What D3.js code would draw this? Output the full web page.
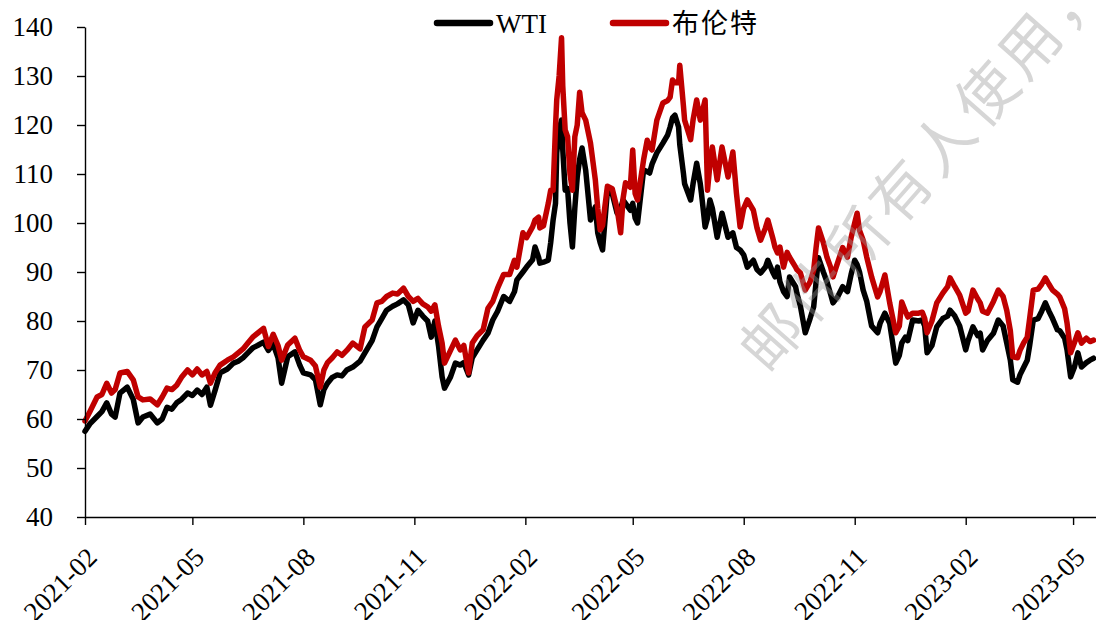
<!DOCTYPE html>
<html>
<head>
<meta charset="utf-8">
<script src="https://d3js.org/d3.v7.min.js"></script>
<style>
body { margin: 0; background: #fff; }
</style>
</head>
<body>
<div id="main"></div>
<script>
// daily prices (USD/bbl)
var dates = ["2021-02-08","2021-02-12","2021-02-18","2021-02-22","2021-02-26","2021-03-02","2021-03-05","2021-03-09","2021-03-15","2021-03-20",
"2021-03-24","2021-03-28","2021-04-03","2021-04-09","2021-04-13","2021-04-17","2021-04-21","2021-04-25","2021-04-29","2021-05-04",
"2021-05-08","2021-05-12","2021-05-16","2021-05-20","2021-05-23","2021-05-27","2021-05-31","2021-06-06","2021-06-11","2021-06-15",
"2021-06-19","2021-06-23","2021-06-27","2021-07-01","2021-07-06","2021-07-10","2021-07-14","2021-07-18","2021-07-21","2021-07-26",
"2021-08-01","2021-08-05","2021-08-08","2021-08-14","2021-08-18","2021-08-22","2021-08-25","2021-08-28","2021-09-01","2021-09-05",
"2021-09-09","2021-09-13","2021-09-18","2021-09-24","2021-09-28","2021-10-04","2021-10-08","2021-10-12","2021-10-16","2021-10-21",
"2021-10-25","2021-10-30","2021-11-03","2021-11-07","2021-11-11","2021-11-15","2021-11-19","2021-11-22","2021-11-25","2021-11-28",
"2021-12-01","2021-12-03","2021-12-08","2021-12-12","2021-12-16","2021-12-19","2021-12-23","2021-12-26","2021-12-30","2022-01-04",
"2022-01-08","2022-01-12","2022-01-16","2022-01-21","2022-01-26","2022-01-30","2022-02-01","2022-02-06","2022-02-09","2022-02-14",
"2022-02-16","2022-02-19","2022-02-20","2022-02-23","2022-02-27","2022-03-01","2022-03-03","2022-03-05","2022-03-06","2022-03-08",
"2022-03-10","2022-03-11","2022-03-13","2022-03-15","2022-03-17","2022-03-19","2022-03-21","2022-03-23","2022-03-25","2022-03-27",
"2022-03-30","2022-04-03","2022-04-07","2022-04-09","2022-04-11","2022-04-13","2022-04-17","2022-04-21","2022-04-25","2022-04-28",
"2022-04-30","2022-05-02","2022-05-06","2022-05-08","2022-05-10","2022-05-12","2022-05-17","2022-05-20","2022-05-22","2022-05-24",
"2022-05-28","2022-06-02","2022-06-06","2022-06-08","2022-06-10","2022-06-12","2022-06-15","2022-06-16","2022-06-19","2022-06-20",
"2022-06-25","2022-06-27","2022-06-30","2022-07-03","2022-07-04","2022-07-07","2022-07-09","2022-07-11","2022-07-13","2022-07-17",
"2022-07-21","2022-07-26","2022-07-30","2022-08-02","2022-08-05","2022-08-08","2022-08-11","2022-08-16","2022-08-19","2022-08-22",
"2022-08-26","2022-08-28","2022-09-01","2022-09-03","2022-09-05","2022-09-07","2022-09-10","2022-09-13","2022-09-15","2022-09-20",
"2022-09-21","2022-09-24","2022-09-28","2022-10-02","2022-10-05","2022-10-07","2022-10-09","2022-10-13","2022-10-16","2022-10-19",
"2022-10-21","2022-10-25","2022-10-29","2022-11-02","2022-11-05","2022-11-08","2022-11-10","2022-11-12","2022-11-15","2022-11-18",
"2022-11-21","2022-11-22","2022-11-27","2022-11-29","2022-12-03","2022-12-07","2022-12-12","2022-12-15","2022-12-17","2022-12-20",
"2022-12-22","2022-12-26","2022-12-31","2023-01-03","2023-01-05","2023-01-07","2023-01-11","2023-01-15","2023-01-20","2023-01-24",
"2023-01-26","2023-01-30","2023-02-03","2023-02-08","2023-02-10","2023-02-14","2023-02-18","2023-02-20","2023-02-22","2023-02-26",
"2023-03-03","2023-03-07","2023-03-11","2023-03-14","2023-03-17","2023-03-19","2023-03-23","2023-03-25","2023-03-28","2023-03-31",
"2023-04-02","2023-04-05","2023-04-09","2023-04-12","2023-04-15","2023-04-18","2023-04-21","2023-04-25","2023-04-27","2023-05-01",
"2023-05-03","2023-05-06","2023-05-09","2023-05-12","2023-05-15","2023-05-19","2023-05-22","2023-05-25"];

var wti = [57.5,59.0,60.5,61.5,63.3,61.0,60.4,65.3,66.5,64.0,
59.2,60.4,61.0,59.2,60.0,62.4,62.0,63.3,64.0,65.3,
64.8,65.9,65.0,66.5,62.8,66.0,69.4,70.2,71.4,71.8,
72.5,73.5,74.5,75.0,75.7,74.0,75.3,72.5,67.3,72.7,
73.7,71.0,69.4,69.0,68.0,62.9,66.0,67.3,68.5,69.0,
68.8,70.0,70.6,71.8,73.5,76.0,78.8,80.5,82.2,83.0,
83.5,84.3,83.3,79.6,82.2,81.0,80.0,76.7,80.0,75.0,
68.6,66.3,68.6,71.4,71.0,71.5,69.0,72.5,74.1,76.1,
77.5,80.2,82.0,85.0,84.0,86.0,88.4,90.0,91.0,92.5,
95.1,93.0,91.8,92.0,92.4,96.0,100.6,104.0,114.3,119.0,
121.0,115.0,106.7,107.0,100.0,95.1,103.0,109.4,113.0,115.3,
110.8,100.6,103.3,98.0,96.0,94.5,106.5,106.0,102.0,103.0,
104.7,104.0,102.6,104.0,101.0,100.0,110.8,110.5,110.2,112.0,
114.3,116.3,118.0,119.6,121.5,122.0,119.6,116.0,110.2,108.0,
104.7,108.0,112.2,108.0,106.0,99.2,101.0,104.7,103.0,97.1,
102.0,97.1,98.0,95.0,94.5,93.5,91.0,92.4,90.5,89.8,
91.0,92.4,90.0,89.0,91.0,88.0,86.0,85.0,89.0,87.0,
85.7,83.0,77.6,80.5,82.9,88.0,92.9,90.0,88.0,85.5,
83.7,85.0,87.0,86.0,89.5,92.4,91.5,90.0,86.3,84.0,
80.2,79.0,77.6,79.5,81.6,79.5,71.4,73.0,75.5,76.7,
76.0,80.2,80.0,80.2,79.0,73.5,75.0,78.8,80.5,81.0,
82.2,81.0,79.0,74.1,76.0,78.8,77.0,77.5,74.1,76.0,
77.5,80.2,79.0,75.5,72.0,68.0,67.5,69.0,70.5,72.0,
75.0,80.2,80.5,82.0,83.7,82.0,80.5,78.2,78.0,76.5,
74.1,68.6,70.5,73.5,70.6,71.5,72.0,72.4];

var brent = [59.6,61.5,64.5,65.0,67.3,65.3,66.0,69.4,69.7,68.0,
64.5,63.9,64.1,62.9,64.5,66.3,66.0,66.9,68.5,70.0,
69.0,70.2,69.0,69.7,67.3,69.5,71.0,72.0,72.7,73.5,
74.3,75.5,76.7,77.5,78.5,74.8,77.3,75.0,72.0,75.1,
76.5,74.0,72.7,72.0,70.8,66.5,70.0,71.5,72.5,73.7,
73.0,74.0,75.5,74.3,78.8,80.2,83.7,84.0,85.0,85.7,
85.5,86.7,85.0,84.0,84.6,83.5,82.9,82.0,83.3,79.0,
75.5,71.4,74.0,76.1,74.1,75.0,69.4,75.5,77.0,78.2,
82.6,84.0,86.7,89.5,89.5,92.4,91.0,98.0,97.0,99.2,
100.6,101.2,99.0,99.4,104.0,106.7,106.7,119.6,125.1,130.0,
137.8,128.0,119.0,117.6,110.0,106.7,117.6,120.0,126.7,122.5,
121.0,116.3,108.8,103.0,98.6,99.5,107.5,107.0,103.0,98.0,
105.0,108.2,107.3,114.9,106.0,104.7,112.9,116.9,115.5,114.9,
121.0,124.5,125.0,125.7,129.2,128.6,128.6,132.2,124.0,121.0,
117.0,121.0,125.1,121.0,122.0,125.1,106.7,112.0,115.5,108.8,
115.5,109.4,114.5,106.0,99.2,103.0,104.7,102.6,99.0,96.5,
99.0,100.6,97.0,95.0,93.9,95.1,91.0,94.0,93.0,91.0,
90.5,89.8,86.3,88.0,90.4,95.0,99.0,96.0,93.0,91.0,
89.0,92.0,95.0,93.0,97.0,100.0,102.0,98.5,96.5,93.0,
90.0,89.0,84.9,86.0,89.4,83.7,77.6,79.0,83.9,82.0,
80.8,81.6,81.6,81.8,80.5,77.6,80.0,83.7,85.7,87.0,
88.8,87.0,85.3,81.6,82.0,86.3,84.5,83.7,82.0,81.6,
84.0,86.3,85.0,82.2,78.0,72.7,72.5,74.0,75.5,76.7,
80.5,86.3,86.5,87.5,88.8,87.5,86.3,85.5,84.9,82.5,
79.6,73.5,75.5,77.6,75.5,76.5,75.8,76.1];

var seriesNames = ["WTI", "布伦特"];
var seriesColors = ["#000000", "#c00000"];
var yTicks = [40, 50, 60, 70, 80, 90, 100, 110, 120, 130, 140];
var watermark = "邮件所有人使用，";

var width = 1096, height = 620;
var plotL = 85, plotR = 1096, plotT = 27, plotB = 517;
var font = "'Liberation Serif', 'Times New Roman', 'Noto Sans CJK SC', serif";

var parse = d3.timeParse("%Y-%m-%d");
var start = parse("2021-02-08");
var end = parse("2023-05-27");

var x = d3.scaleTime().domain([start, end]).range([plotL, plotR]);
var y = d3.scaleLinear().domain([40, 140]).range([plotB, plotT]);

var xTicks = d3.range(10).map(function(i) { return d3.timeMonth.offset(start, i * 3); });

var svg = d3.select("#main").append("svg")
    .attr("width", width)
    .attr("height", height)
    .style("display", "block");

var data = dates.map(function(d, i) {
  return {date: parse(d), wti: wti[i], brent: brent[i]};
});

var lineW = d3.line().x(function(d) { return x(d.date); }).y(function(d) { return y(d.wti); });
var lineB = d3.line().x(function(d) { return x(d.date); }).y(function(d) { return y(d.brent); });

svg.append("path").datum(data)
    .attr("d", lineW)
    .attr("fill", "none").attr("stroke", seriesColors[0])
    .attr("stroke-width", 5.5).attr("stroke-linejoin", "round").attr("stroke-linecap", "round");
svg.append("path").datum(data)
    .attr("d", lineB)
    .attr("fill", "none").attr("stroke", seriesColors[1])
    .attr("stroke-width", 5.5).attr("stroke-linejoin", "round").attr("stroke-linecap", "round");

// axes
var yAxis = svg.append("g")
    .attr("transform", "translate(" + plotL + ",0)")
    .call(d3.axisLeft(y).tickValues(yTicks).tickSize(8).tickSizeOuter(0).tickPadding(24));
yAxis.selectAll("text").style("font-family", font).style("font-size", "27px").attr("fill", "#000");

var xAxis = svg.append("g")
    .attr("transform", "translate(0," + plotB + ")")
    .call(d3.axisBottom(x).tickValues(xTicks).tickSize(8).tickSizeOuter(0).tickFormat(d3.timeFormat("%Y-%m")));
xAxis.selectAll("text")
    .style("font-family", font).style("font-size", "27px").attr("fill", "#000")
    .style("text-anchor", "end")
    .attr("dy", "0")
    .attr("y", 0)
    .attr("transform", "translate(13,42) rotate(-45)");

svg.selectAll(".domain, .tick line").attr("stroke", "#000").attr("stroke-width", 1.4);

// legend
var legend = svg.append("g");
var legX = [437, 613];
seriesNames.forEach(function(name, i) {
  legend.append("line")
      .attr("x1", legX[i]).attr("x2", legX[i] + 53)
      .attr("y1", 23).attr("y2", 23)
      .attr("stroke", seriesColors[i]).attr("stroke-width", 6.5).attr("stroke-linecap", "round");
  legend.append("text")
      .attr("x", legX[i] + 59).attr("y", 33)
      .style("font-family", font).style("font-size", "27px")
      .style("letter-spacing", i == 1 ? "2px" : "0px")
      .text(name);
});

// watermark
var wm = svg.append("g").attr("opacity", 0.4);
var ang = -48.6, step = 65;
var rad = ang * Math.PI / 180;
watermark.split("").forEach(function(ch, i) {
  var cx = 768 + i * step * Math.cos(rad), cy = 335 + i * step * Math.sin(rad);
  wm.append("text")
      .attr("transform", "translate(" + cx + "," + cy + ") rotate(" + ang + ")")
      .attr("text-anchor", "middle")
      .attr("dominant-baseline", "central")
      .style("font-family", "'Noto Sans CJK SC', sans-serif")
      .style("font-size", "60px")
      .attr("fill", "#999")
      .text(ch);
});
</script>
</body>
</html>
